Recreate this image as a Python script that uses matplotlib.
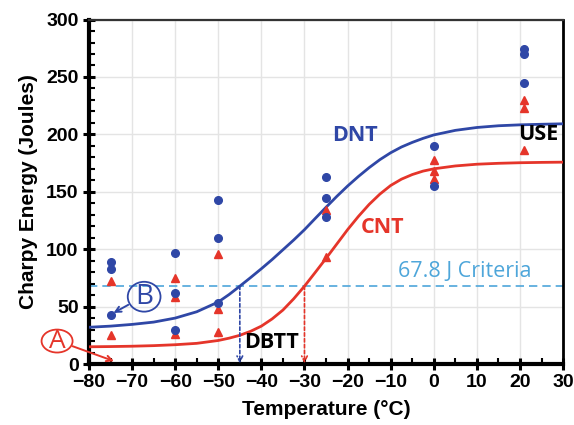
import matplotlib
matplotlib.use("Agg")
import matplotlib.pyplot as plt
from matplotlib.patches import Ellipse
from matplotlib.ticker import MultipleLocator

# Charpy test results (temperature in °C, energy in J)
dnt_temp = [-75, -75, -75, -60, -60, -60, -50, -50, -50, -25, -25, -25, 0, 0, 21, 21, 21]
dnt_energy = [89, 83, 43, 97, 61.5, 30, 143, 110, 53, 163, 145, 128, 190, 155, 274, 270, 244.5]

cnt_temp = [-75, -75, -60, -60, -60, -50, -50, -50, -25, -25, 0, 0, 0, 21, 21, 21]
cnt_energy = [72, 25, 75, 58, 26, 96, 48, 28, 134, 93, 178, 168, 161, 230, 223, 186]

# Fitted transition curves, tabulated (finer steps through the transition)
curve_temp = [-80, -75, -70, -65, -60, -55, -50, -47.5, -45, -42.5, -40, -37.5,
              -35, -32.5, -30, -27.5, -25, -22.5, -20, -17.5, -15, -12.5, -10,
              -7.5, -5, -2.5, 0, 5, 10, 15, 20, 25, 30]
dnt_curve = [32, 33, 34.5, 36.5, 40, 45.5, 54, 60.5, 67.8, 75.3, 83, 91,
             99.5, 108, 117, 126.8, 136.5, 146, 155, 163.3, 171, 178, 184,
             189, 193, 196.5, 199.5, 203.5, 206, 207.5, 208.3, 208.8, 209.2]
cnt_curve = [15, 15.2, 15.5, 16, 16.8, 18, 20.5, 22.5, 25, 28.5, 33, 39.3,
             47, 56.8, 67.8, 79.8, 92, 104.5, 117, 128.5, 139, 148, 155.5,
             161, 165, 168, 170, 172.5, 174, 174.8, 175.3, 175.6, 175.8]

criteria = 67.8
dbtt_dnt = -45
dbtt_cnt = -30

BLUE = "#2f47a6"
RED = "#e5352a"
CRIT = "#4ea6da"
LABEL_FONT = ["Open Sans", "DejaVu Sans"]

plt.rcParams["font.family"] = ["Liberation Sans", "DejaVu Sans"]
plt.rcParams["lines.solid_joinstyle"] = "round"

fig = plt.figure(figsize=(5.74, 4.25), dpi=100)
ax = fig.add_axes([0.155, 0.1435, 0.826, 0.8105])

ax.set_xlim(-80, 30)
ax.set_ylim(0, 300)

ax.xaxis.set_major_locator(MultipleLocator(10))
ax.xaxis.set_minor_locator(MultipleLocator(5))
ax.yaxis.set_major_locator(MultipleLocator(50))
ax.yaxis.set_minor_locator(MultipleLocator(10))
ax.grid(True, which="major", color="#e4e4e4", linewidth=1.0, zorder=0)
ax.set_axisbelow(True)

for side in ("left", "bottom"):
    ax.spines[side].set_linewidth(3.0)
    ax.spines[side].set_color("black")
ax.spines["top"].set_linewidth(1.6)
ax.spines["top"].set_color("#333333")
ax.spines["right"].set_linewidth(2.0)
ax.spines["right"].set_color("black")

ax.tick_params(which="major", direction="inout", length=9, width=2.2,
               labelsize=14, pad=3)
ax.tick_params(which="minor", direction="in", length=4, width=1.5)
for lbl in ax.get_xticklabels() + ax.get_yticklabels():
    lbl.set_fontweight("bold")

ax.set_xlabel("Temperature (°C)", fontsize=15, fontweight="bold", labelpad=6)
ax.set_ylabel("Charpy Energy (Joules)", fontsize=15, fontweight="bold", labelpad=6)

# criterion line
ax.axhline(criteria, color=CRIT, linestyle=(0, (5, 3)), linewidth=1.2, zorder=2)
ax.text(-8.3, 71, "67.8 J Criteria", color=CRIT, fontsize=15.5,
        family=LABEL_FONT, ha="left", va="bottom")

# fitted curves
ax.plot(curve_temp, dnt_curve, color=BLUE, linewidth=2.0, zorder=3)
ax.plot(curve_temp, cnt_curve, color=RED, linewidth=2.0, zorder=3)

# measured points
ax.plot(cnt_temp, cnt_energy, linestyle="none", marker="^", markersize=6,
        color=RED, zorder=4)
ax.plot(dnt_temp, dnt_energy, linestyle="none", marker="o", markersize=5.5,
        color=BLUE, zorder=5)

# DBTT markers
ax.annotate("", xy=(dbtt_dnt, 0.5), xytext=(dbtt_dnt, criteria),
            arrowprops=dict(arrowstyle="->", color=BLUE, lw=1.2,
                            linestyle=(0, (2, 1.5)), shrinkA=0, shrinkB=0),
            zorder=3)
ax.annotate("", xy=(dbtt_cnt, 0.5), xytext=(dbtt_cnt, criteria),
            arrowprops=dict(arrowstyle="->", color=RED, lw=1.2,
                            linestyle=(0, (2, 1.5)), shrinkA=0, shrinkB=0),
            zorder=3)

ax.text(-18.3, 199, "DNT", color=BLUE, fontsize=15.5, fontweight="bold",
        family=LABEL_FONT, ha="center", va="center")
ax.text(-11.8, 119, "CNT", color=RED, fontsize=15.5, fontweight="bold",
        family=LABEL_FONT, ha="center", va="center")
ax.text(24.2, 199.5, "USE", color="black", fontsize=15.5, fontweight="bold",
        family=LABEL_FONT, ha="center", va="center")
ax.text(-37.7, 18.5, "DBTT", color="black", fontsize=15.5, fontweight="bold",
        family=LABEL_FONT, ha="center", va="center")

# callout B
ax.add_patch(Ellipse((-67.2, 58.6), 7.6, 26, fill=False, edgecolor=BLUE,
                     linewidth=1.3, zorder=6))
ax.text(-67.2, 58.6, "B", color=BLUE, fontsize=20, family=LABEL_FONT,
        ha="center", va="center", zorder=6)
ax.annotate("", xy=(-74.3, 44.5), xytext=(-70.9, 51.5),
            arrowprops=dict(arrowstyle="->", color=BLUE, lw=1.4,
                            shrinkA=0, shrinkB=0), zorder=6)

# callout A
ax.add_patch(Ellipse((-87.4, 20), 7.2, 20, fill=False, edgecolor=RED,
                     linewidth=1.3, zorder=6, clip_on=False))
ax.text(-87.4, 20, "A", color=RED, fontsize=19, family=LABEL_FONT,
        ha="center", va="center", zorder=6, clip_on=False)
ax.annotate("", xy=(-74.2, 2.5), xytext=(-83.8, 15.5),
            arrowprops=dict(arrowstyle="->", color=RED, lw=1.4,
                            shrinkA=0, shrinkB=0),
            annotation_clip=False, zorder=6)

fig.savefig("out.png", dpi=100)
